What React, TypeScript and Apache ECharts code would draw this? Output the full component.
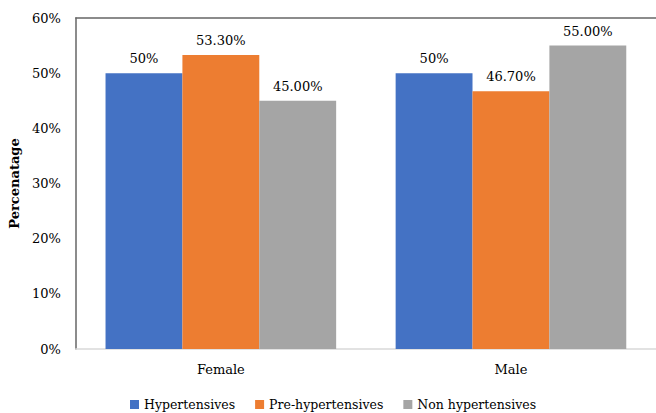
import React, { useEffect, useRef } from "react";
import * as echarts from "echarts";

const categories = ["Female", "Male"];
const seriesNames = ["Hypertensives", "Pre-hypertensives", "Non hypertensives"];
const hypertensives = [50, 50];
const preHypertensives = [53.3, 46.7];
const nonHypertensives = [45.0, 55.0];
const hypertensivesLabels = ["50%", "50%"];
const preHypertensivesLabels = ["53.30%", "46.70%"];
const nonHypertensivesLabels = ["45.00%", "55.00%"];
const yTicks = [0, 10, 20, 30, 40, 50, 60];
const colors = ["#4472C4", "#ED7D31", "#A5A5A5"];

const FONT = "DejaVu Serif";

export default function App() {
  const ref = useRef<HTMLDivElement>(null);
  useEffect(() => {
    if (!ref.current) return;
    const chart = echarts.init(ref.current, null, { renderer: "svg" });
    const values = [hypertensives, preHypertensives, nonHypertensives];
    const labels = [hypertensivesLabels, preHypertensivesLabels, nonHypertensivesLabels];
    chart.setOption({
      animation: false,
      textStyle: { fontFamily: FONT },
      grid: { left: 70, top: 18, width: 591, bottom: 64 },
      legend: {
        data: seriesNames,
        top: 398,
        left: 130,
        padding: 0,
        icon: "rect",
        itemWidth: 9,
        itemHeight: 9,
        itemGap: 20,
        textStyle: { fontFamily: FONT, fontSize: 12.5, color: "#000" },
      },
      xAxis: [
        {
          type: "category",
          data: categories,
          axisLine: { lineStyle: { color: "#d9d9d9", width: 1.5 } },
          axisTick: { show: false },
          axisLabel: { fontFamily: FONT, fontSize: 13, color: "#000", margin: 14 },
        },
        {
          type: "category",
          position: "top",
          data: categories,
          axisLine: { lineStyle: { color: "#666", width: 1.5 } },
          axisTick: { show: false },
          axisLabel: { show: false },
        },
      ],
      yAxis: {
        type: "value",
        min: yTicks[0],
        max: yTicks[yTicks.length - 1],
        interval: 10,
        name: "Percenatage",
        nameLocation: "middle",
        nameRotate: 90,
        nameGap: 48,
        nameTextStyle: { fontFamily: FONT, fontSize: 13, fontWeight: "bold", color: "#000" },
        axisLine: { show: true, lineStyle: { color: "#666", width: 1.5 } },
        axisTick: { show: false },
        splitLine: { show: false },
        axisLabel: { formatter: "{value}%", fontFamily: FONT, fontSize: 13, color: "#000", margin: 15 },
      },
      series: seriesNames.map((name, i) => ({
        name,
        type: "bar",
        data: values[i],
        barGap: "0%",
        barCategoryGap: "20.5%",
        itemStyle: { color: colors[i] },
        label: {
          show: true,
          position: "top",
          distance: 8,
          fontFamily: FONT,
          fontSize: 13,
          color: "#000",
          formatter: (p: any) => labels[i][p.dataIndex],
        },
      })),
    });
    return () => chart.dispose();
  }, []);
  return (
    <div
      ref={ref}
      style={{ position: "fixed", left: 0, top: 0, width: 656, height: 413, background: "#fff" }}
    />
  );
}
